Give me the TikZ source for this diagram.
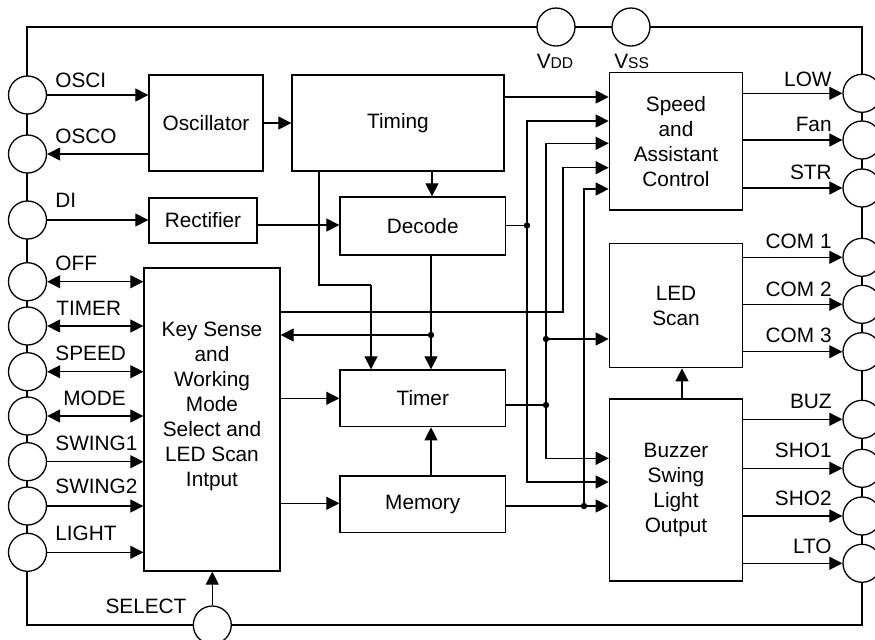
\documentclass[tikz,border=0pt]{standalone}
\usepackage{fontspec}
\setmainfont{Liberation Sans}
\usetikzlibrary{arrows.meta}
\begin{document}
\begin{tikzpicture}[x=0.5pt,y=-0.5pt,
 font=\fontsize{10.4}{12.5}\selectfont,
 box/.style={draw,line width=0.65pt,inner sep=0pt,align=center},
 pin/.style={draw,circle,line width=0.65pt,fill=white,minimum size=19pt,inner sep=0pt},
 arr/.style={line width=0.6pt,-{Triangle[length=6.5pt,width=6.5pt]}},
 darr/.style={line width=0.6pt,{Triangle[length=6.5pt,width=6.5pt]}-{Triangle[length=6.5pt,width=6.5pt]}},
 wire/.style={line width=0.6pt},
 dot/.style={circle,fill,inner sep=0pt,minimum size=3.2pt},
 lbl/.style={inner sep=0pt}]
\useasboundingbox (0,0) rectangle (875,639);
% border
\draw[line width=1.15pt] (27,27) rectangle (862,625);
% boxes
\node[box,minimum width=57pt,minimum height=48pt] (osc) at (206,123) {Oscillator};
\node[box,minimum width=106pt,minimum height=48pt] (tim) at (398,123) {Timing};
\node[box,minimum width=54pt,minimum height=22.5pt] (rec) at (203,220.5) {Rectifier};
\node[box,minimum width=82.75pt,minimum height=29pt] (dec) at (422.75,226) {Decode};
\node[box,minimum width=82.75pt,minimum height=28.35pt] (tmr) at (422.75,398.3) {Timer};
\node[box,minimum width=82.75pt,minimum height=28.35pt] (mem) at (422.75,504.3) {Memory};
\node[box,minimum width=68pt,minimum height=151.5pt] (ks) at (212,419.5) {};
\node[align=center,inner sep=0pt] (kstxt) at (212,406) {Key Sense\\and\\Working\\Mode\\Select and\\LED Scan\\Intput};
\node[box,minimum width=66.7pt,minimum height=68.65pt] (spd) at (676,141.3) {Speed\\and\\Assistant\\Control};
\node[box,minimum width=66.7pt,minimum height=62.2pt] (led) at (676,305.5) {LED\\Scan};
\node[box,minimum width=66.7pt,minimum height=91pt] (buz) at (676,490) {Buzzer\\Swing\\Light\\Output};
% left pins
\node[pin] (osci) at (27.5,95) {};
\node[pin] (osco) at (27.5,154) {};
\node[pin] (di) at (27.5,220) {};
\node[pin] (off) at (27.5,281.7) {};
\node[pin] (timer) at (27.5,326) {};
\node[pin] (speed) at (27.5,371.7) {};
\node[pin] (mode) at (27.5,416) {};
\node[pin] (sw1) at (27.5,461.7) {};
\node[pin] (sw2) at (27.5,506) {};
\node[pin] (light) at (27.5,552.3) {};
% right pins
\node[pin] (low) at (862,93.3) {};
\node[pin] (fan) at (862,140) {};
\node[pin] (str) at (862,188) {};
\node[pin] (com1) at (862,257.3) {};
\node[pin] (com2) at (862,304.3) {};
\node[pin] (com3) at (862,351.7) {};
\node[pin] (buzp) at (862,419.3) {};
\node[pin] (sho1) at (862,468.3) {};
\node[pin] (sho2) at (862,516) {};
\node[pin] (lto) at (862,563.3) {};
% top and bottom pins
\node[pin] (vdd) at (556,27) {};
\node[pin] (vss) at (631,27) {};
\node[pin] (sel) at (212.3,625) {};
% pin labels
\node[lbl,anchor=west] (losci) at (55,80) {OSCI};
\node[lbl,anchor=west] (losco) at (55,136) {OSCO};
\node[lbl,anchor=west] (ldi) at (55,200) {DI};
\node[lbl,anchor=west] (loff) at (55,263) {OFF};
\node[lbl,anchor=west] (ltimer) at (56,308) {TIMER};
\node[lbl,anchor=west] (lspeed) at (55,353) {SPEED};
\node[lbl,anchor=west] (lmode) at (63,398) {MODE};
\node[lbl,anchor=west] (lsw1) at (55,443) {SWING1};
\node[lbl,anchor=west] (lsw2) at (55,486) {SWING2};
\node[lbl,anchor=west] (llight) at (55,533) {LIGHT};
\node[lbl,anchor=east] (llow) at (832,79) {LOW};
\node[lbl,anchor=east] (lfan) at (832,124) {Fan};
\node[lbl,anchor=east] (lstr) at (832,172.7) {STR};
\node[lbl,anchor=east] (lcom1) at (832,241) {COM 1};
\node[lbl,anchor=east] (lcom2) at (832,289) {COM 2};
\node[lbl,anchor=east] (lcom3) at (832,335) {COM 3};
\node[lbl,anchor=east] (lbuz) at (832,401.7) {BUZ};
\node[lbl,anchor=east] (lsho1) at (832,450.7) {SHO1};
\node[lbl,anchor=east] (lsho2) at (832,498.3) {SHO2};
\node[lbl,anchor=east] (llto) at (832,546.7) {LTO};
\node[lbl] (lvdd) at (555,61.7) {V{\fontsize{7.8}{9}\selectfont DD}};
\node[lbl] (lvss) at (631.7,61.7) {V{\fontsize{7.8}{9}\selectfont SS}};
\node[lbl] (lsel) at (146,606) {SELECT};
% left connectors
\draw[arr] (osci) -- (osci -| osc.west);
\draw[arr] (osco -| osc.west) -- (osco);
\draw[arr] (di) -- (di -| rec.west);
\draw[darr] (off) -- (off -| ks.west);
\draw[darr] (timer) -- (timer -| ks.west);
\draw[darr] (speed) -- (speed -| ks.west);
\draw[darr] (mode) -- (mode -| ks.west);
\draw[arr] (sw1) -- (sw1 -| ks.west);
\draw[arr] (sw2) -- (sw2 -| ks.west);
\draw[arr] (light) -- (light -| ks.west);
\draw[arr] (sel) -- (sel |- ks.south);
% right connectors
\foreach \p in {low,fan,str} \draw[arr] (spd.east |- \p) -- (\p);
\foreach \p in {com1,com2,com3} \draw[arr] (led.east |- \p) -- (\p);
\foreach \p in {buzp,sho1,sho2,lto} \draw[arr] (buz.east |- \p) -- (\p);
% internal coordinates
\coordinate (j1) at (527,225.5);
\coordinate (j2) at (546,405);
\coordinate (j3) at (546,339);
\coordinate (j4) at (584,506);
\coordinate (j5) at (431,335);
\coordinate (k1) at (563,312);
\coordinate (t1) at (319,285);
\coordinate (t2) at (371,285);
% internal connectors
\draw[arr] (osc.east) -- (tim.west);
\draw[arr] (rec.east |- 0,225) -- (dec.west |- 0,225);
\draw[arr] (tim.south -| 432,0) -- (dec.north -| 432,0);
\draw[wire] (tim.south -| t1) -- (t1) -- (t2);
\draw[arr] (t2) -- (tmr.north -| t2);
\draw[arr] (dec.south -| j5) -- (tmr.north -| j5);
\draw[arr] (j5) -- (ks.east |- j5);
\draw[arr] (mem.north -| j5) -- (tmr.south -| j5);
\draw[arr] (ks.east |- 0,398.3) -- (tmr.west |- 0,398.3);
\draw[arr] (ks.east |- 0,503.3) -- (mem.west |- 0,503.3);
\draw[arr] (tim.east |- 0,97) -- (spd.west |- 0,97);
\draw[wire] (dec.east |- j1) -- (j1);
\draw[arr] (j1) |- (spd.west |- 0,121);
\draw[arr] (j1) |- (buz.west |- 0,482);
\draw[wire] (tmr.east |- j2) -- (j2);
\draw[arr] (j2) |- (spd.west |- 0,143.3);
\draw[arr] (j2) |- (buz.west |- 0,458.3);
\draw[arr] (j3) -- (led.west |- j3);
\draw[arr] (ks.east |- k1) -- (k1) |- (spd.west |- 0,167.7);
\draw[wire] (mem.east |- j4) -- (j4);
\draw[arr] (j4) -- (buz.west |- j4);
\draw[arr] (j4) |- (spd.west |- 0,189);
\draw[arr] (buz.north -| 682,0) -- (led.south -| 682,0);
% junction dots
\foreach \j in {j1,j2,j3,j4,j5} \node[dot] at (\j) {};
\end{tikzpicture}
\end{document}
